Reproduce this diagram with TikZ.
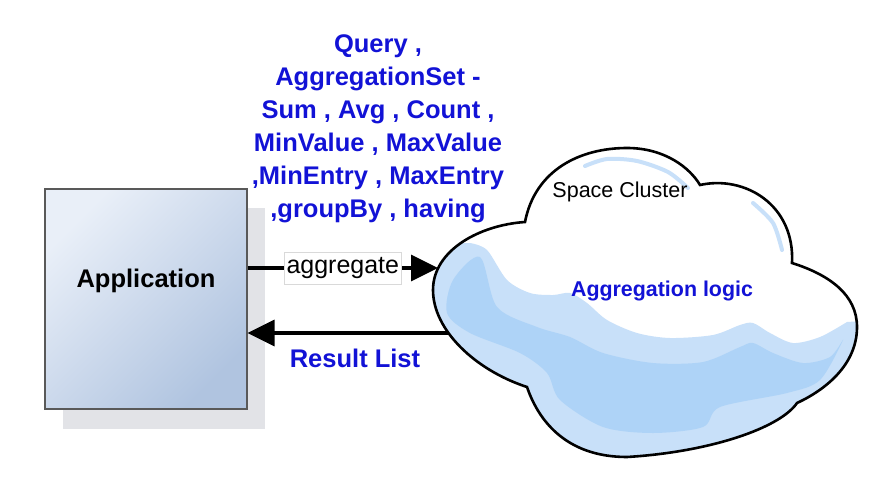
\documentclass[tikz,border=0pt]{standalone}
\usepackage{fontspec}
\setmainfont{Liberation Sans}
\usetikzlibrary{arrows.meta}

\definecolor{qblue}{RGB}{18,18,214}
\definecolor{appl}{RGB}{233,239,248}
\definecolor{appd}{RGB}{176,196,224}
\definecolor{shadowgray}{RGB}{226,227,231}
\definecolor{cloudl}{RGB}{200,224,249}
\definecolor{cloudd}{RGB}{174,211,247}

\newcommand{\cloudpath}{(525,258) .. controls (535,310) and (580,332) .. (627,332)
  .. controls (665,332) and (690,312) .. (700,295)
  .. controls (745,305) and (795,275) .. (792,217)
  .. controls (830,205) and (857,185) .. (857,153)
  .. controls (857,115) and (825,90) .. (797,77)
  .. controls (780,52) and (710,28) .. (627,23)
  .. controls (570,23) and (540,55) .. (527,93)
  .. controls (475,110) and (433,150) .. (433,190)
  .. controls (433,230) and (480,255) .. (525,258) -- cycle}

\begin{document}
\begin{tikzpicture}[x=1pt,y=1pt,
  bigtxt/.style={font=\fontsize{25.5}{33}\selectfont\bfseries},
  conn/.style={line width=3.2pt,-{Triangle[length=27pt,width=26pt]}}]

\useasboundingbox (0,0) rectangle (874,480);

%% application box
\fill[shadowgray] (63,51) rectangle (265,272);
\node[draw=black!65, line width=1.2pt, minimum width=202pt, minimum height=220pt,
  inner sep=0pt, top color=appl, bottom color=appd, shading angle=45] (app) at (146,181) {};
\node[bigtxt] (appname) at (146,199) {Application};

%% connectors
\coordinate (cl-in) at (438,212);
\coordinate (cl-out) at (460,147);
\draw[conn] (app.east |- cl-in) -- node[midway, fill=white, draw=black!15, line width=0.6pt,
  inner xsep=2pt, inner ysep=5.5pt, font=\fontsize{25}{30}\selectfont] (agg) {aggregate} (cl-in);
\draw[conn] (cl-out) -- (app.east |- cl-out);

%% cloud
\fill[white] \cloudpath;
\begin{scope}
\clip \cloudpath;
\fill[cloudl] (420,237) -- plot[smooth] coordinates {(470,237) (487,230) (507,200) (530,187)
  (553,185) (570,187) (587,177) (607,160) (637,147) (670,142) (713,145) (740,155) (753,157)
  (770,147) (793,137) (820,143) (847,158)} -- (880,160) -- (880,0) -- (420,0) -- cycle;
\fill[cloudd] plot[smooth cycle] coordinates {(480,223) (497,173) (537,153) (570,143) (603,127)
  (653,117) (703,118) (740,133) (753,137) (773,127) (803,117) (830,123) (843,140) (820,100)
  (787,87) (720,73) (703,53) (653,47) (603,53) (560,80) (547,107) (520,127) (470,147)
  (447,167) (453,200)};
\draw[cloudl, line width=4pt, line cap=round] plot[smooth] coordinates {(585,314) (607,321)
  (637,319) (668,308) (688,292)};
\draw[cloudl, line width=4pt, line cap=round] plot[smooth] coordinates {(753,277) (773,257)
  (782,230)};
\end{scope}
\draw[line width=2.6pt] \cloudpath;

%% texts
\node[font=\fontsize{21.5}{26}\selectfont] (space) at (620,288) {Space Cluster};
\node[font=\fontsize{21.4}{26}\selectfont\bfseries, text=qblue] (logic) at (662,189) {Aggregation logic};
\node[bigtxt, text=qblue] (reslist) at (355,122) {Result List};
\node[bigtxt, text=qblue, align=center] (ops) at (378,351) {Query ,\\ AggregationSet -\\
  Sum , Avg , Count ,\\ MinValue , MaxValue\\ ,MinEntry , MaxEntry\\ ,groupBy , having};

\end{tikzpicture}
\end{document}
